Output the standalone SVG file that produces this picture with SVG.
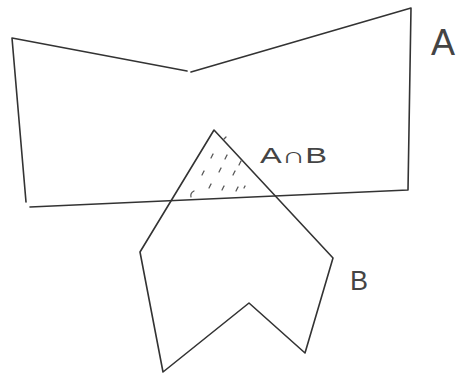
<svg xmlns="http://www.w3.org/2000/svg" width="457" height="375" viewBox="0 0 457 375">
<style>
.ln{fill:none;stroke:#333;stroke-width:1.6;stroke-linecap:round;stroke-linejoin:round}
.h{fill:none;stroke:#555;stroke-width:1.2;stroke-linecap:round}
.t{font-family:"Liberation Sans",Arial,sans-serif;fill:#444}
</style>
<rect width="457" height="375" fill="#fff"/>
<g id="setA">
<polyline class="ln" points="187,71 12,38 26,202"/>
<polyline class="ln" points="191,72 411,8 408,190 30,207"/>
<text class="t" x="431" y="55" font-size="36">A</text>
</g>
<g id="setB">
<polygon class="ln" points="214,130 140,252 163,372 249,303 305,353 333,258"/>
<text class="t" x="350" y="290" font-size="27">B</text>
</g>
<g id="intersection">
<g class="h">
<line x1="211" y1="158" x2="213" y2="154"/>
<line x1="225" y1="159" x2="227" y2="155"/>
<line x1="239" y1="165" x2="241" y2="161"/>
<line x1="202" y1="175" x2="204" y2="171"/>
<line x1="219" y1="172" x2="221" y2="168"/>
<line x1="233" y1="175" x2="235" y2="171"/>
<line x1="209" y1="188" x2="211" y2="184"/>
<line x1="222" y1="190" x2="224" y2="186"/>
<line x1="236" y1="191" x2="238" y2="187"/>
<line x1="244" y1="188" x2="245" y2="186"/>
<line x1="224" y1="139" x2="226" y2="137"/>
<path d="M191,197 Q190,193 194,191"/>
</g>
<text class="t" x="260" y="163" font-size="22" textLength="67" lengthAdjust="spacingAndGlyphs">A∩B</text>
</g>
</svg>
